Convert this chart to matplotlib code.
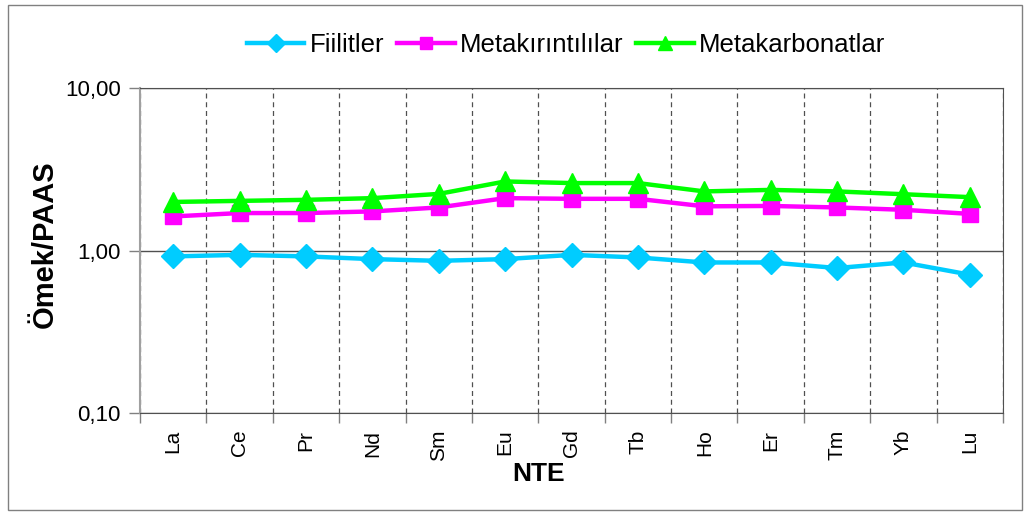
import matplotlib
matplotlib.use("Agg")
import matplotlib.pyplot as plt
from matplotlib.ticker import FixedLocator, FuncFormatter, NullLocator
from matplotlib.patches import Rectangle

plt.rcParams['font.family'] = ['Liberation Sans', 'DejaVu Sans']

elements = ["La", "Ce", "Pr", "Nd", "Sm", "Eu", "Gd", "Tb", "Ho", "Er", "Tm", "Yb", "Lu"]
fiilitler = [0.92, 0.94, 0.92, 0.885, 0.864, 0.885, 0.94, 0.906, 0.844, 0.844, 0.78, 0.844, 0.71]
metakirintililar = [1.62, 1.70, 1.70, 1.74, 1.84, 2.10, 2.08, 2.08, 1.87, 1.88, 1.84, 1.78, 1.68]
metakarbonatlar = [1.99, 2.02, 2.05, 2.10, 2.23, 2.66, 2.60, 2.60, 2.31, 2.36, 2.31, 2.22, 2.13]
y_ticks = [0.1, 1.0, 10.0]

fig = plt.figure(figsize=(10.3, 5.15), dpi=100)
ax = fig.add_axes([140 / 1030, 102 / 515, 863 / 1030, 325 / 515])

x = list(range(len(elements)))
ax.plot(x, fiilitler, color="#00CCFF", lw=3.2, marker="D", ms=12,
        mec="#00CCFF", label="Fiilitler", zorder=3)
ax.plot(x, metakirintililar, color="#FF00FF", lw=3.2, marker="s", ms=12,
        mec="#FF00FF", label="Metakırıntılılar", zorder=3)
ax.plot(x, metakarbonatlar, color="#00FF00", lw=3.2, marker="^", ms=14,
        mec="#00FF00", label="Metakarbonatlar", zorder=4)

ax.set_yscale("log")
ax.set_ylim(0.1, 10)
ax.set_xlim(-0.5, len(elements) - 0.5)

ax.yaxis.set_major_locator(FixedLocator(y_ticks))
ax.yaxis.set_minor_locator(NullLocator())
ax.yaxis.set_major_formatter(FuncFormatter(lambda v, p: f"{v:.2f}".replace(".", ",")))
ax.grid(axis="y", which="major", color="#505050", lw=1.0, ls="-")

ax.set_xticks(x)
ax.set_xticklabels(elements, rotation=90, fontsize=15)
ax.set_xticks([i + 0.5 for i in range(len(elements) - 1)] + [-0.5, len(elements) - 0.5], minor=True)
ax.tick_params(axis="x", which="major", length=0, pad=12)
ax.tick_params(axis="x", which="minor", length=7, color="#808080", width=1)
ax.grid(axis="x", which="minor", color="#505050", lw=0.9, ls=(0, (4, 3)))
ax.tick_params(axis="y", which="major", length=8, width=1, color="#808080",
               labelsize=16, pad=6)

for s in ["top", "right", "bottom"]:
    ax.spines[s].set_color("#505050")
ax.spines["left"].set_color("#a0a0a0")
ax.spines["left"].set_linewidth(1.5)

ax.set_xlabel("NTE", fontsize=19, fontweight="bold")
ax.xaxis.set_label_coords((539 - 140) / 863, (413 - 462) / 325)
ax.set_ylabel("Ömek/PAAS", fontsize=21, fontweight="bold")
ax.yaxis.set_label_coords((59 - 140) / 863, (413 - 244) / 325)

fig.legend(loc="center", bbox_to_anchor=(566 / 1030, 1 - 45 / 515), ncol=3,
           frameon=False, fontsize=18.5, handlelength=2.25, handletextpad=0.2,
           columnspacing=0.5, markerscale=0.75)

fig.patches.append(Rectangle((8 / 1030, 5 / 515), 1014 / 1030, 505 / 515,
                             transform=fig.transFigure, fill=False,
                             edgecolor="#808080", lw=1.0))

fig.savefig("out.png", dpi=100, facecolor="white")
